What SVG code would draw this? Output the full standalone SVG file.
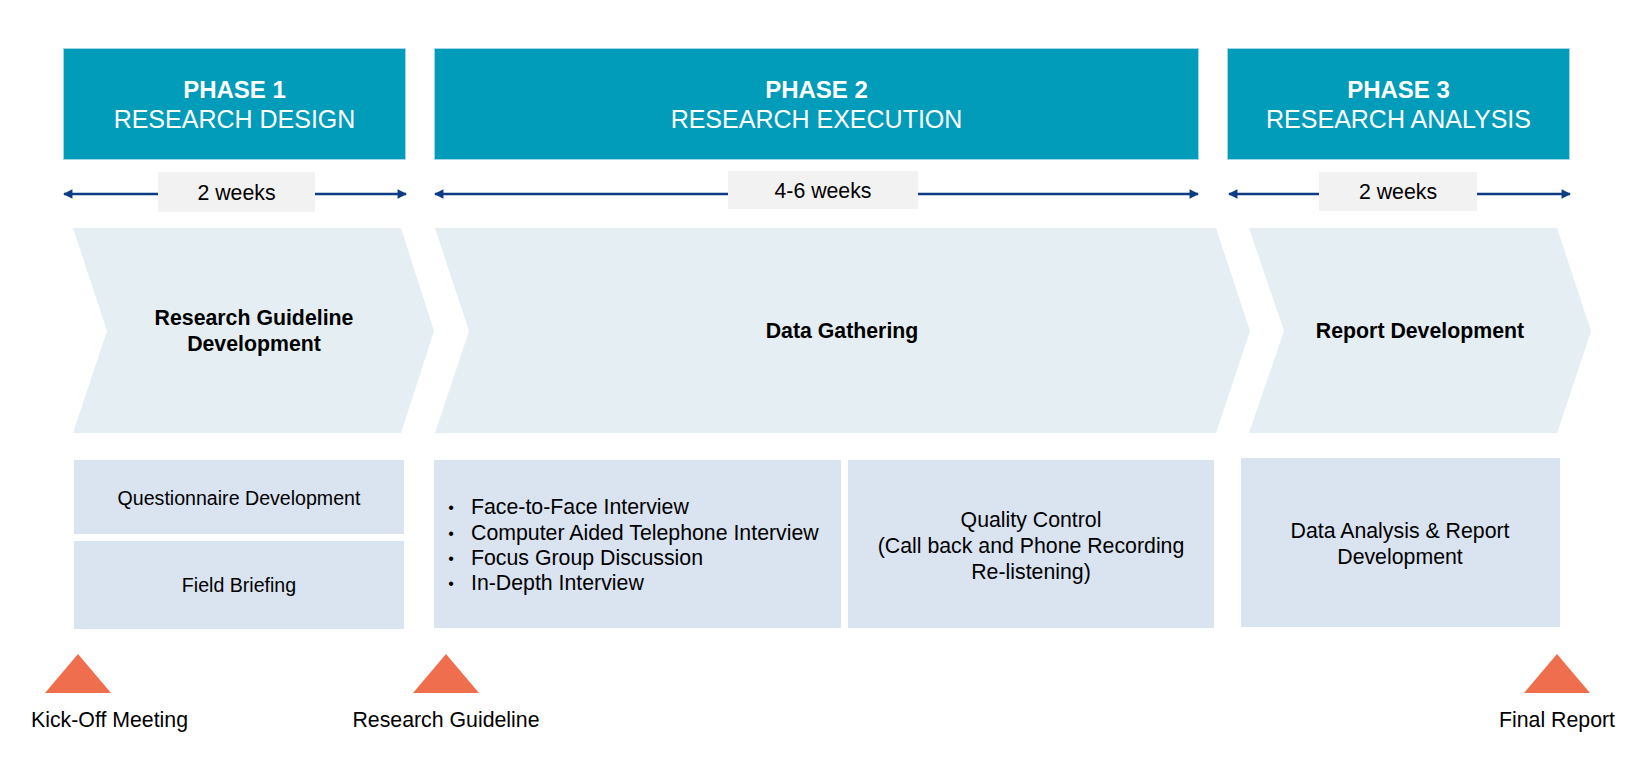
<svg xmlns="http://www.w3.org/2000/svg" width="1639" height="760" viewBox="0 0 1639 760">
<defs>
<marker id="ah" viewBox="0 0 10 10" refX="9" refY="5" markerWidth="5" markerHeight="3.6" markerUnits="strokeWidth" orient="auto-start-reverse">
<path d="M0,0 L10,5 L0,10 z" fill="#0e3c84"/>
</marker>
</defs>
<style>
text{font-family:"Liberation Sans",Arial,sans-serif;fill:#000;}
.hdr{fill:#019cba;stroke:#9fd8e4;stroke-width:1;}
.ht1{font-size:24px;font-weight:bold;fill:#fff;text-anchor:middle;}
.ht2{font-size:25px;fill:#fff;text-anchor:middle;}
.dur{fill:#f2f2f2;}
.dt{font-size:21.3px;text-anchor:middle;}
.chev{fill:#e5eef2;}
.ct{font-size:21.3px;font-weight:bold;text-anchor:middle;}
.box{fill:#dae3f0;}
.bt{font-size:21.3px;text-anchor:middle;}
.bt2{font-size:19.6px;text-anchor:middle;}
.lt{font-size:21.3px;}
.bul{font-size:16px;text-anchor:middle;}
.conn{stroke:#0e3c84;stroke-width:2.6;fill:none;marker-start:url(#ah);marker-end:url(#ah);}
.ms{fill:#ef6e4d;}
</style>
<rect width="1639" height="760" fill="#fff"/>

<g id="connectors">
<line class="conn" x1="64" y1="194" x2="406" y2="194"/>
<line class="conn" x1="435" y1="194" x2="1198" y2="194"/>
<line class="conn" x1="1229" y1="194" x2="1570" y2="194"/>
</g>

<g id="phase1-header">
<rect class="hdr" x="63.5" y="48.5" width="342" height="111"/>
<text class="ht1" x="234.5" y="98">PHASE 1</text>
<text class="ht2" x="234.5" y="128">RESEARCH DESIGN</text>
</g>
<g id="phase2-header">
<rect class="hdr" x="434.5" y="48.5" width="764" height="111"/>
<text class="ht1" x="816.5" y="98">PHASE 2</text>
<text class="ht2" x="816.5" y="128">RESEARCH EXECUTION</text>
</g>
<g id="phase3-header">
<rect class="hdr" x="1227.5" y="48.5" width="342" height="111"/>
<text class="ht1" x="1398.5" y="98">PHASE 3</text>
<text class="ht2" x="1398.5" y="128">RESEARCH ANALYSIS</text>
</g>

<g id="dur1">
<rect class="dur" x="158" y="172" width="157" height="40"/>
<text class="dt" x="236.5" y="200">2 weeks</text>
</g>
<g id="dur2">
<rect class="dur" x="728" y="171" width="190" height="38"/>
<text class="dt" x="823" y="198">4-6 weeks</text>
</g>
<g id="dur3">
<rect class="dur" x="1319" y="172" width="158" height="39"/>
<text class="dt" x="1398" y="199">2 weeks</text>
</g>

<g id="chevron1">
<polygon class="chev" points="73,228 401,228 434,331 401,433 73,433 107,331"/>
<text class="ct" x="254" y="325">Research Guideline</text>
<text class="ct" x="254" y="351">Development</text>
</g>
<g id="chevron2">
<polygon class="chev" points="435,228 1216,228 1250,331 1216,433 435,433 469,331"/>
<text class="ct" x="842" y="338">Data Gathering</text>
</g>
<g id="chevron3">
<polygon class="chev" points="1249,228 1557,228 1591,331 1557,433 1249,433 1284,331"/>
<text class="ct" x="1420" y="338">Report Development</text>
</g>

<g id="questionnaire">
<rect class="box" x="74" y="460" width="330" height="74"/>
<text class="bt2" x="239" y="505">Questionnaire Development</text>
</g>
<g id="field-briefing">
<rect class="box" x="74" y="541" width="330" height="88"/>
<text class="bt2" x="239" y="592">Field Briefing</text>
</g>
<g id="methods">
<rect class="box" x="434" y="460" width="407" height="168"/>
<text class="bul" x="451" y="513">•</text>
<text class="lt" x="471" y="514">Face-to-Face Interview</text>
<text class="bul" x="451" y="539">•</text>
<text class="lt" x="471" y="540">Computer Aided Telephone Interview</text>
<text class="bul" x="451" y="564">•</text>
<text class="lt" x="471" y="565">Focus Group Discussion</text>
<text class="bul" x="451" y="589">•</text>
<text class="lt" x="471" y="590">In-Depth Interview</text>
</g>
<g id="quality-control">
<rect class="box" x="848" y="460" width="366" height="168"/>
<text class="bt" x="1031" y="527">Quality Control</text>
<text class="bt" x="1031" y="553">(Call back and Phone Recording</text>
<text class="bt" x="1031" y="579">Re-listening)</text>
</g>
<g id="analysis">
<rect class="box" x="1241" y="458" width="319" height="169"/>
<text class="bt" x="1400" y="538">Data Analysis &amp; Report</text>
<text class="bt" x="1400" y="564">Development</text>
</g>

<g id="kickoff">
<polygon class="ms" points="45,693 78,654 111,693"/>
<text class="lt" x="31" y="727">Kick-Off Meeting</text>
</g>
<g id="research-guideline">
<polygon class="ms" points="413,693 446,654 479,693"/>
<text class="lt" x="446" y="727" text-anchor="middle">Research Guideline</text>
</g>
<g id="final-report">
<polygon class="ms" points="1524,693 1557,654 1590,693"/>
<text class="lt" x="1557" y="727" text-anchor="middle">Final Report</text>
</g>
</svg>
